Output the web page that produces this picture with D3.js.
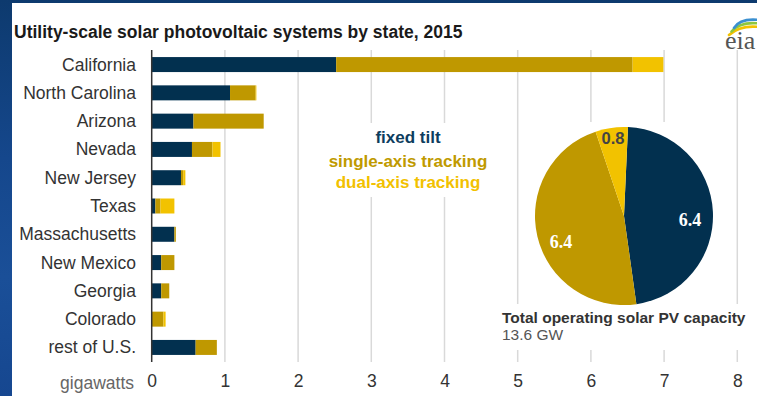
<!DOCTYPE html>
<html>
<head>
<meta charset="utf-8">
<script src="https://cdn.jsdelivr.net/npm/d3@7"></script>
<style>
  html, body { margin: 0; padding: 0; }
  body { width: 757px; height: 396px; overflow: hidden;
         background: linear-gradient(180deg, #0d3a6e 0%, #15478c 40%, #1a4f98 70%, #164790 100%); }
  svg { display: block; font-family: "Liberation Sans", Arial, sans-serif; }
</style>
</head>
<body>
<svg id="chart" width="757" height="396"></svg>
<script>
// Utility-scale PV capacity (GW) by state and mounting type, 2015
const states = ["California", "North Carolina", "Arizona", "Nevada", "New Jersey", "Texas",
                "Massachusetts", "New Mexico", "Georgia", "Colorado", "rest of U.S."];
const fixedTilt   = [2.52, 1.07, 0.57, 0.55, 0.40, 0.05, 0.31, 0.13, 0.13, 0.00, 0.60];
const singleAxis  = [4.05, 0.35, 0.96, 0.28, 0.03, 0.07, 0.02, 0.18, 0.11, 0.16, 0.29];
const dualAxis    = [0.42, 0.01, 0.00, 0.11, 0.03, 0.19, 0.00, 0.00, 0.00, 0.03, 0.00];
const seriesNames = ["fixed tilt", "single-axis tracking", "dual-axis tracking"];
const seriesColors = ["#02304f", "#bf9800", "#f2c200"];
const legendColors = ["#0d3d5e", "#c09a00", "#f2c100"];
const xTicks = [0, 1, 2, 3, 4, 5, 6, 7, 8];

// National totals shown in the pie (GW)
const pieValues = [6.4, 6.4, 0.8];
const pieLabels = ["6.4", "6.4", "0.8"];
const totalLabel = "13.6 GW";

const svg = d3.select("#chart");

// white panel over the blue backdrop
svg.append("rect").attr("x", 12).attr("y", 3).attr("width", 745).attr("height", 393).attr("fill", "#fff");

const x = d3.scaleLinear().domain([0, 8]).range([151.7, 737.3]);
const y = d3.scaleBand().domain(states).range([50, 362]).paddingInner(0.47).paddingOuter(0.25);

// title
svg.append("text").attr("x", 14).attr("y", 38)
  .attr("font-size", 17.5).attr("font-weight", "bold").attr("fill", "#1a1a1a")
  .text("Utility-scale solar photovoltaic systems by state, 2015");

// gridlines
svg.append("g").selectAll("line").data(xTicks.slice(1)).join("line")
  .attr("x1", d => x(d)).attr("x2", d => x(d))
  .attr("y1", 50).attr("y2", 362)
  .attr("stroke", "#d9d9d9").attr("stroke-width", 1.5);

// tick labels along the bottom
const xAxis = d3.axisBottom(x).tickValues(xTicks).tickSize(0).tickPadding(0).tickFormat(d3.format("d"));
const gx = svg.append("g").attr("transform", "translate(0,375)").call(xAxis);
gx.select(".domain").remove();
gx.selectAll("text").attr("font-size", 17.5).attr("fill", "#333")
  .attr("font-family", "Liberation Sans, Arial, sans-serif");
svg.append("text").attr("x", 134).attr("y", 389).attr("text-anchor", "end")
  .attr("font-size", 17.5).attr("fill", "#666").text("gigawatts");

// category labels
const yAxis = d3.axisLeft(y).tickSize(0).tickPadding(0);
const gy = svg.append("g").attr("transform", "translate(136,0)").call(yAxis);
gy.select(".domain").remove();
gy.selectAll("text").attr("font-size", 17.5).attr("fill", "#333")
  .attr("font-family", "Liberation Sans, Arial, sans-serif").attr("dy", "0.34em");

// stacked bars
const rows = states.map((s, i) => ({ state: s, fixed: fixedTilt[i], single: singleAxis[i], dual: dualAxis[i] }));
const stack = d3.stack().keys(["fixed", "single", "dual"])(rows);
svg.append("g").selectAll("g").data(stack).join("g")
  .attr("fill", (d, i) => seriesColors[i])
  .selectAll("rect").data(d => d).join("rect")
  .attr("x", d => x(d[0]))
  .attr("width", d => Math.max(0, x(d[1]) - x(d[0])))
  .attr("y", d => y(d.data.state))
  .attr("height", y.bandwidth());

// zero axis
svg.append("line").attr("x1", x(0)).attr("x2", x(0)).attr("y1", 50).attr("y2", 362)
  .attr("stroke", "#333").attr("stroke-width", 1.5);

// legend block (sits on a white patch over the gridlines)
svg.append("rect").attr("x", 326).attr("y", 123).attr("width", 166).attr("height", 74).attr("fill", "#fff");
const legendY = [143, 167, 188];
svg.append("g").selectAll("text").data(seriesNames).join("text")
  .attr("x", 408).attr("y", (d, i) => legendY[i]).attr("text-anchor", "middle")
  .attr("font-size", 17).attr("font-weight", "bold")
  .attr("fill", (d, i) => legendColors[i]).text(d => d);

// pie of national totals
svg.append("rect").attr("x", 522).attr("y", 122).attr("width", 210).attr("height", 228).attr("fill", "#fff");
svg.append("rect").attr("x", 498).attr("y", 304).attr("width", 256).attr("height", 46).attr("fill", "#fff");

const cx = 624, cy = 216, r = 89;
const pie = d3.pie().sort(null).startAngle(0.045).endAngle(0.045 + 2 * Math.PI);
const arcs = pie(pieValues);
const arc = d3.arc().innerRadius(0).outerRadius(r);
const gp = svg.append("g").attr("transform", `translate(${cx},${cy})`);
gp.selectAll("path").data(arcs).join("path")
  .attr("d", arc).attr("fill", (d, i) => seriesColors[i]);

// slice value labels
const labelRadius = [66, 68, 79];
const labelNudge = [0.10, -0.15, 0];
const labelFill = ["#fff", "#fff", "#444"];
const labelFont = ["Liberation Serif, Times New Roman, serif", "Liberation Serif, Times New Roman, serif",
                   "Liberation Sans, Arial, sans-serif"];
const labelSize = [18, 18, 16.5];
gp.selectAll("text").data(arcs).join("text")
  .each(function (d, i) {
    const a = (d.startAngle + d.endAngle) / 2 + labelNudge[i];
    d3.select(this)
      .attr("x", labelRadius[i] * Math.sin(a))
      .attr("y", -labelRadius[i] * Math.cos(a));
  })
  .attr("text-anchor", "middle").attr("dy", "0.36em")
  .attr("font-size", (d, i) => labelSize[i]).attr("font-weight", "bold")
  .attr("font-family", (d, i) => labelFont[i])
  .attr("fill", (d, i) => labelFill[i])
  .text((d, i) => pieLabels[i]);

svg.append("text").attr("x", 502).attr("y", 323)
  .attr("font-size", 15.5).attr("font-weight", "bold").attr("fill", "#333")
  .text("Total operating solar PV capacity");
svg.append("text").attr("x", 502).attr("y", 340)
  .attr("font-size", 15.5).attr("fill", "#555").text(totalLabel);

// eia mark
const logo = svg.append("g").attr("transform", "translate(725,0)");
const swoosh = [["#f2c200", 33], ["#8dc63f", 29.5], ["#3a8fd0", 26]];
swoosh.forEach(([c, yy], i) => {
  const p = d3.path();
  p.moveTo(4 + i * 2.5, yy + 2);
  p.quadraticCurveTo(15, yy - 8, 34, yy - 6);
  logo.append("path").attr("d", p.toString()).attr("fill", "none")
    .attr("stroke", c).attr("stroke-width", 2.6).attr("stroke-linecap", "round");
});
logo.append("text").attr("x", 0).attr("y", 49)
  .attr("font-family", "Liberation Serif, Times New Roman, serif")
  .attr("font-size", 26).attr("fill", "#555").text("eia");
</script>
</body>
</html>
